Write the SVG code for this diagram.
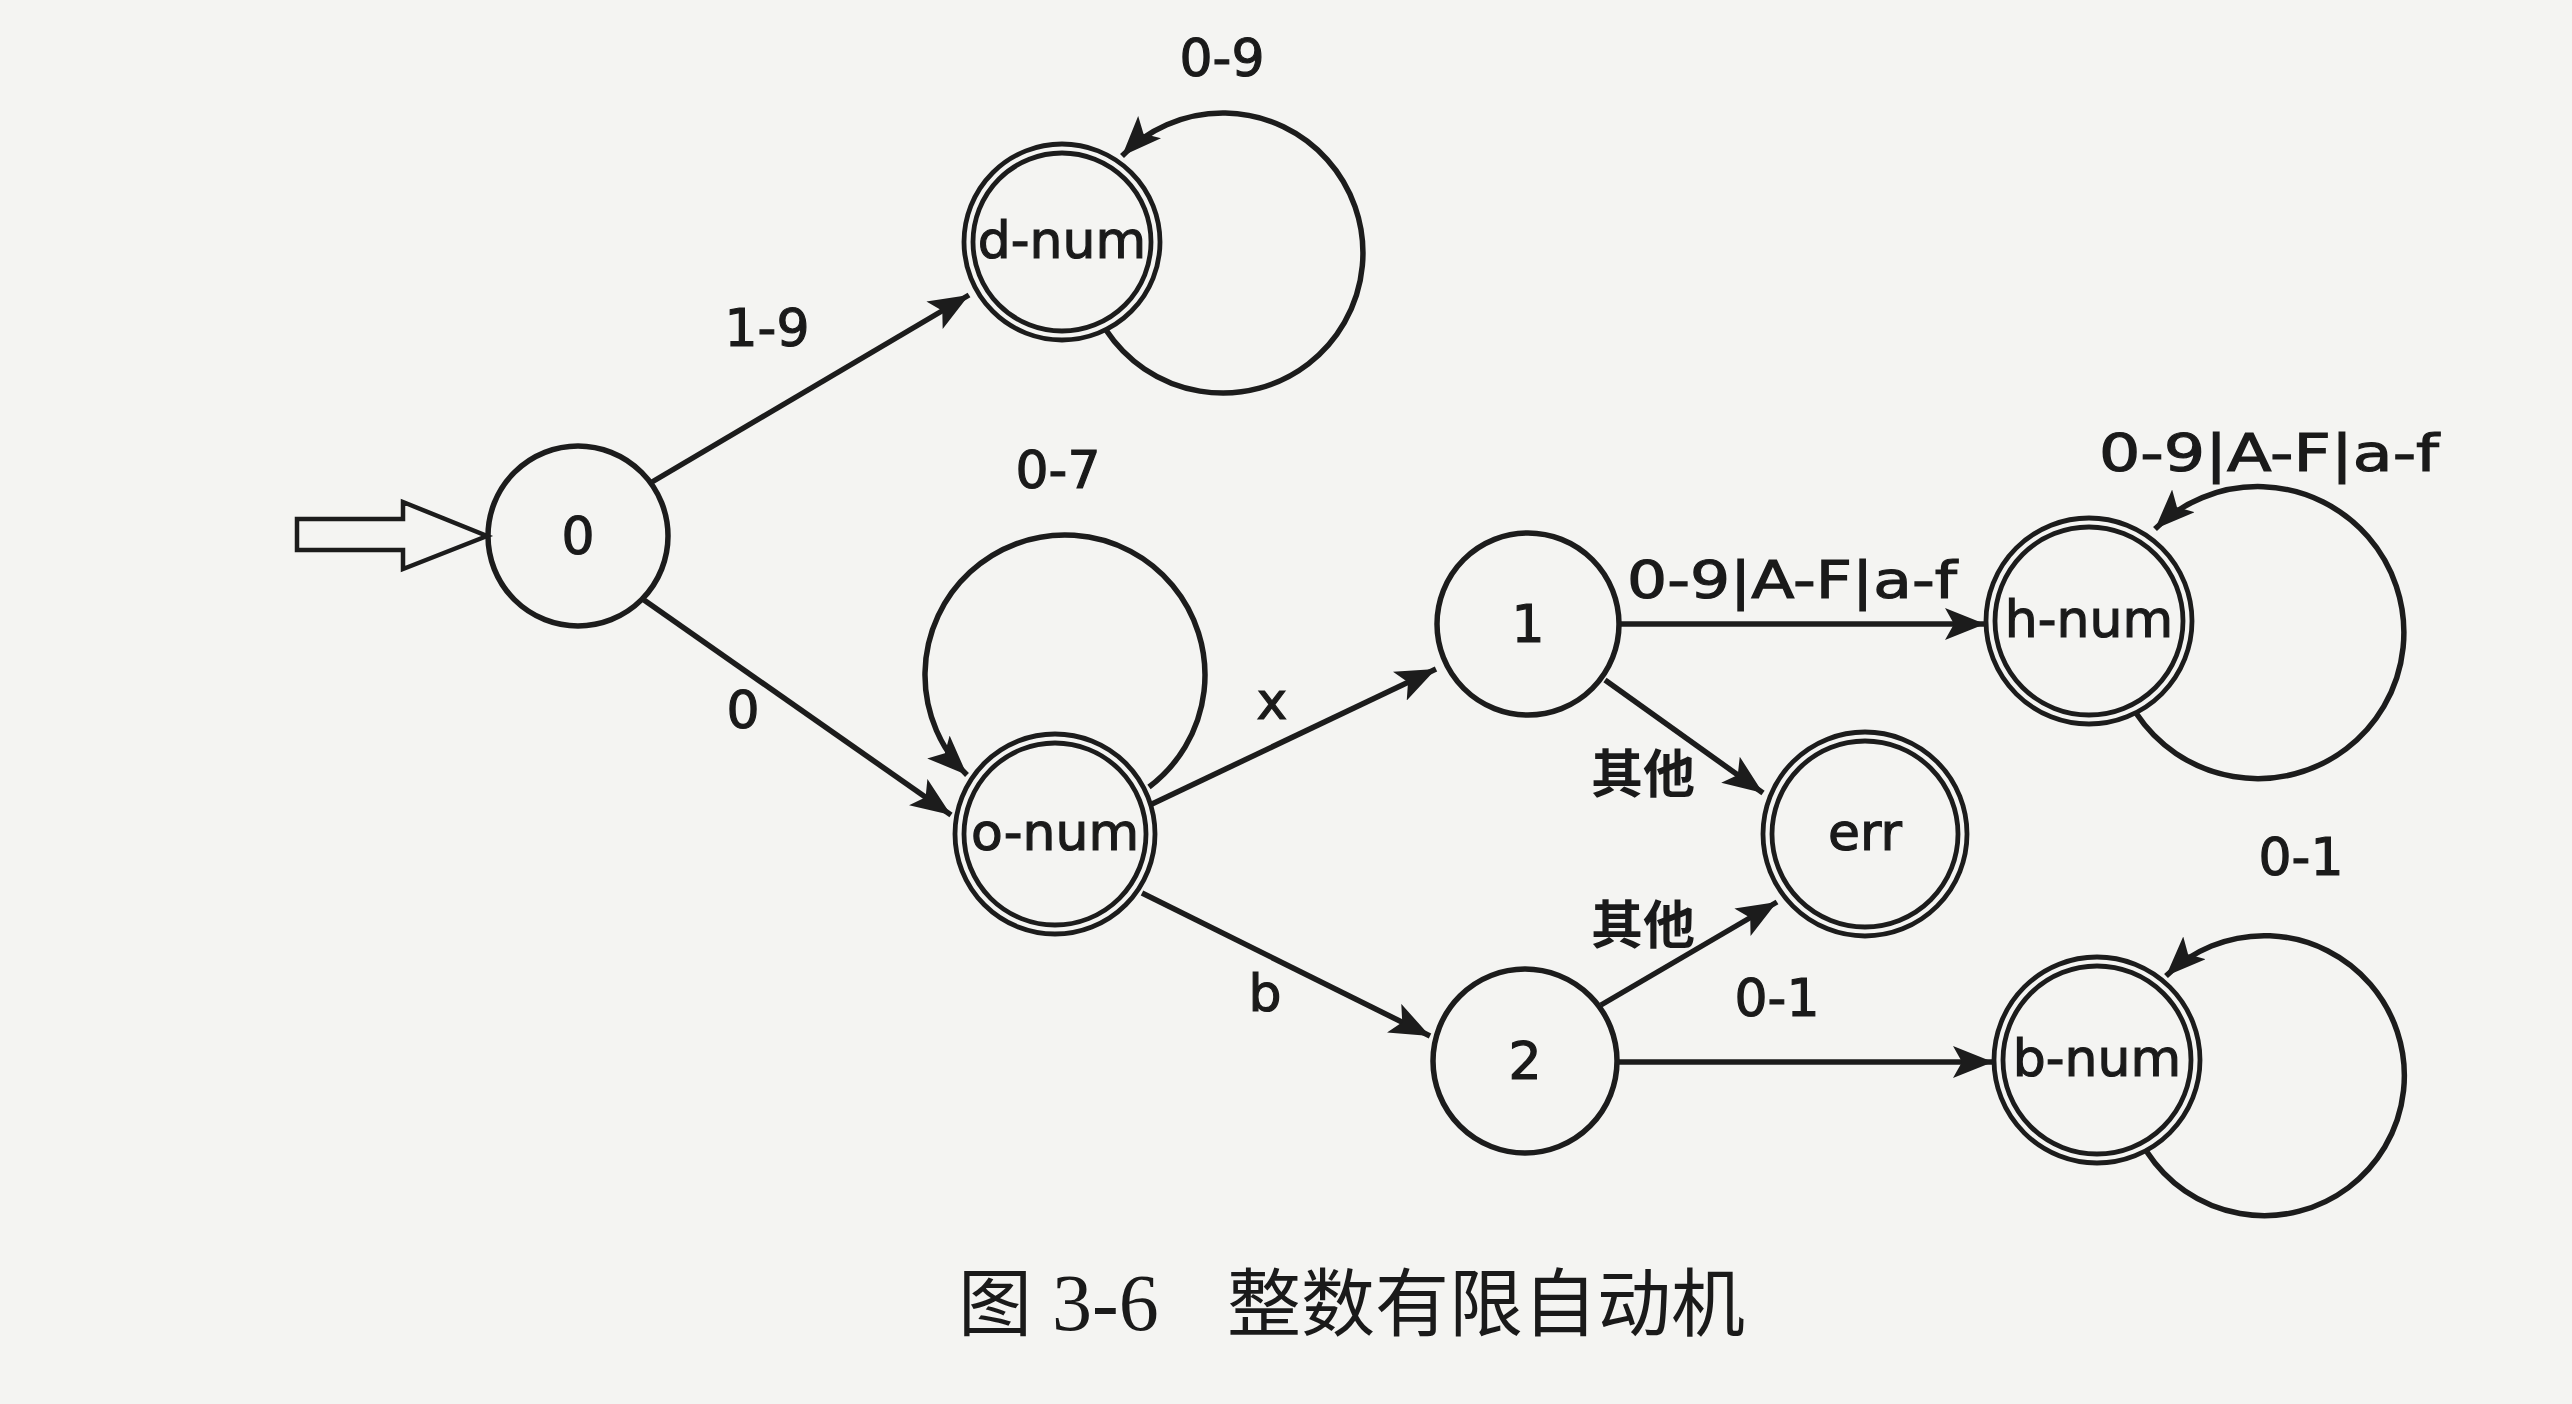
<svg xmlns="http://www.w3.org/2000/svg" width="2572" height="1404" viewBox="0 0 2572 1404">
<style>
.st{fill:none;stroke:#1c1c1c;stroke-width:5.5}
.db{fill:none;stroke:#1c1c1c;stroke-width:4.8}
.e{fill:none;stroke:#1c1c1c;stroke-width:5.5;marker-end:url(#ah)}
.nl{font-family:"DejaVu Sans",sans-serif;font-size:52px;fill:#1a1a1a;stroke:#1a1a1a;stroke-width:1.2;text-anchor:middle;dominant-baseline:central}
.el{font-family:"DejaVu Sans",sans-serif;font-size:52px;fill:#1a1a1a;stroke:#1a1a1a;stroke-width:1.2;text-anchor:middle;dominant-baseline:central}
.cl{font-family:"Noto Sans CJK SC",sans-serif;font-size:52px;font-weight:700;fill:#1a1a1a;text-anchor:middle;dominant-baseline:central}
.cap{font-family:"Noto Sans CJK SC",sans-serif;font-size:74px;fill:#1a1a1a}
</style>
<defs>
<marker id="ah" markerUnits="userSpaceOnUse" markerWidth="44" markerHeight="36" refX="40" refY="16" orient="auto">
<path d="M0,0 L40,16 L0,32 L9,16 z" fill="#1c1c1c"/>
</marker>
</defs>
<rect x="0" y="0" width="2572" height="1404" fill="#f4f4f2"/>

<g id="start">
<polygon points="297,519 403,519 403,502 487,536 403,569 403,550 297,550" fill="none" stroke="#1c1c1c" stroke-width="4.5"/>
</g>

<g id="connectors">
<path class="e" d="M652,482 L969,295"/>
<path class="e" d="M644,600 L951,815"/>
<path class="e" d="M1152,804 L1436,669"/>
<path class="e" d="M1142,893 L1430,1036"/>
<path class="e" d="M1605,680 L1763,793"/>
<path class="e" d="M1601,1005 L1777,902"/>
<path class="e" d="M1619,624 L1985,624"/>
<path class="e" d="M1617,1062 L1993,1062"/>
<path class="e" d="M1106,330 A140,140 0 1 0 1122,156"/>
<path class="e" d="M1149,787 A140,140 0 1 0 967,775"/>
<path class="e" d="M2136,713 A146,146 0 1 0 2155,529"/>
<path class="e" d="M2147,1152 A140,140 0 1 0 2166,976"/>
</g>

<g id="edge-labels">
<text class="el" x="1222" y="58">0-9</text>
<text class="el" x="767" y="328">1-9</text>
<text class="el" x="1058" y="470">0-7</text>
<text class="el" x="743" y="710">0</text>
<text class="el" x="1272" y="701">x</text>
<text class="el" x="1265" y="993">b</text>
<text class="cl" x="1643" y="770">其他</text>
<text class="cl" x="1643" y="921">其他</text>
<text class="el" x="1792" y="580" textLength="330" lengthAdjust="spacingAndGlyphs">0-9|A-F|a-f</text>
<text class="el" x="2269" y="453" textLength="340" lengthAdjust="spacingAndGlyphs">0-9|A-F|a-f</text>
<text class="el" x="1777" y="998">0-1</text>
<text class="el" x="2301" y="857">0-1</text>
</g>

<g id="s0">
<circle class="st" cx="578" cy="536" r="90"/>
<text class="nl" x="578" y="536">0</text>
</g>
<g id="d-num">
<circle class="db" cx="1062" cy="242" r="98"/>
<circle class="db" cx="1062" cy="242" r="89"/>
<text class="nl" x="1062" y="240">d-num</text>
</g>
<g id="o-num">
<circle class="db" cx="1055" cy="834" r="100"/>
<circle class="db" cx="1055" cy="834" r="91"/>
<text class="nl" x="1055" y="832">o-num</text>
</g>
<g id="s1">
<circle class="st" cx="1528" cy="624" r="91"/>
<text class="nl" x="1528" y="624">1</text>
</g>
<g id="s2">
<circle class="st" cx="1525" cy="1061" r="92"/>
<text class="nl" x="1525" y="1061">2</text>
</g>
<g id="err">
<circle class="db" cx="1865" cy="834" r="102"/>
<circle class="db" cx="1865" cy="834" r="93"/>
<text class="nl" x="1865" y="832">err</text>
</g>
<g id="h-num">
<circle class="db" cx="2089" cy="621" r="103"/>
<circle class="db" cx="2089" cy="621" r="94"/>
<text class="nl" x="2089" y="619">h-num</text>
</g>
<g id="b-num">
<circle class="db" cx="2097" cy="1060" r="103"/>
<circle class="db" cx="2097" cy="1060" r="94"/>
<text class="nl" x="2097" y="1058">b-num</text>
</g>

<g id="caption">
<text class="cap" y="1330"><tspan x="958">图 </tspan><tspan x="1052" font-family="Liberation Serif,serif" font-size="80">3-6</tspan><tspan x="1227">整数有限自动机</tspan></text>
</g>
</svg>
